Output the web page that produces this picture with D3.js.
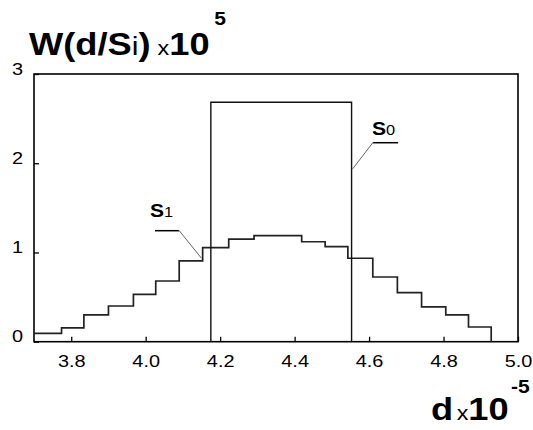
<!DOCTYPE html>
<head>
<meta charset="utf-8">
<title>W(d/Si)</title>
<script src="https://d3js.org/d3.v7.min.js"></script>
<style type="text/css">
body { margin: 0; background: #fff; }
text { font-family: Arial, "Liberation Sans", sans-serif; fill: #000; }
</style>
</head>

<body>
<script type="text/javascript">

// data (d in units of 1e-5, W in units of 1e5)
const binEdges = [3.700, 3.774, 3.834, 3.900, 3.967, 4.027, 4.090, 4.153, 4.223, 4.291,
                  4.355, 4.419, 4.482, 4.543, 4.610, 4.676, 4.741, 4.806, 4.867, 4.928];
const s1Values = [0.094, 0.154, 0.30, 0.40, 0.53, 0.68, 0.905, 1.054, 1.15, 1.188,
                  1.188, 1.12, 1.065, 0.935, 0.725, 0.55, 0.39, 0.30, 0.165];
const s0Range = [4.175, 4.553];
const s0Value = 2.683;
const xTicks = [3.8, 4.0, 4.2, 4.4, 4.6, 4.8, 5.0];
const yTicks = [0, 1, 2, 3];

const svgW = 533, svgH = 430;
const stretch = 1.17;   // text in the original is drawn a bit wide

const svg = d3.select("body").append("svg")
    .attr("width", svgW)
    .attr("height", svgH);

const x = d3.scaleLinear().domain([3.7, 5.0]).range([34, 518]);
const y = d3.scaleLinear().domain([0, 3]).range([341.7, 74]);

// x axis, ticks pointing in
const xAxis = svg.append("g")
    .attr("transform", "translate(0," + y(0) + ")")
    .call(d3.axisBottom(x).tickValues(xTicks).tickSize(-5).tickSizeOuter(0)
        .tickFormat(d3.format(".1f")));
xAxis.select(".domain").remove();
xAxis.selectAll("text")
    .attr("y", 25.5).attr("dy", 0).attr("font-size", 17).attr("font-family", null)
    .attr("transform", "scale(" + stretch + ",1)");
xAxis.selectAll("line").attr("stroke", "#000").attr("stroke-width", 1.3);

// y axis
const yAxis = svg.append("g")
    .attr("transform", "translate(" + x(3.7) + ",0)")
    .call(d3.axisLeft(y).tickValues(yTicks).tickSize(-5).tickSizeOuter(0)
        .tickFormat(d3.format("d")));
yAxis.select(".domain").remove();
yAxis.selectAll("text")
    .attr("x", -11 / stretch).attr("dy", 0).attr("font-size", 17).attr("font-family", null)
    .attr("transform", "scale(" + stretch + ",1)");
yAxis.selectAll("line").attr("stroke", "#000").attr("stroke-width", 1.3);

// frame
svg.append("rect")
    .attr("x", x(3.7)).attr("y", y(3))
    .attr("width", x(5.0) - x(3.7)).attr("height", y(0) - y(3))
    .attr("fill", "none").attr("stroke", "#000").attr("stroke-width", 1.6);

// S1 histogram
const s1Pts = s1Values.map((v, i) => [binEdges[i], v]);
s1Pts.push([binEdges[binEdges.length - 1], 0]);
const line = d3.line().x(d => x(d[0])).y(d => y(d[1]));

svg.append("path")
    .attr("d", line.curve(d3.curveStepAfter)(s1Pts))
    .attr("fill", "none").attr("stroke", "#222").attr("stroke-width", 1.7);

// S0 box
const s0Pts = [[s0Range[0], 0], [s0Range[0], s0Value], [s0Range[1], s0Value], [s0Range[1], 0]];
svg.append("path")
    .attr("d", d3.line().x(d => x(d[0])).y(d => y(d[1]))(s0Pts))
    .attr("fill", "none").attr("stroke", "#111").attr("stroke-width", 1.4);

// labels + leader lines
function leader(under, tip) {
    svg.append("line")
        .attr("x1", x(under[0])).attr("x2", x(under[1]))
        .attr("y1", y(under[2])).attr("y2", y(under[2]))
        .attr("stroke", "#000").attr("stroke-width", 1.5);
    svg.append("line")
        .attr("x1", x(under[1 - (under[3] || 0)])).attr("y1", y(under[2]))
        .attr("x2", x(tip[0])).attr("y2", y(tip[1]))
        .attr("stroke", "#666").attr("stroke-width", 1);
}
leader([4.025, 4.090, 1.244], [4.150, 0.935]);
leader([4.610, 4.678, 2.230, 1], [4.555, 1.932]);

// wide text: group at (px,py), stretched horizontally
function wideText(px, py) {
    return svg.append("g")
        .attr("transform", "translate(" + px + "," + py + ") scale(" + stretch + ",1)")
        .append("text");
}

function sLabel(px, py, sub) {
    const t = wideText(px, py);
    t.append("tspan").attr("font-size", 18).attr("font-weight", "bold").text("S");
    t.append("tspan").attr("font-size", 14).text(sub);
}
sLabel(150, 217, "1");
sLabel(372, 135, "0");

// title
const title = wideText(29, 55);
title.append("tspan").attr("font-size", 31).attr("font-weight", "bold").text("W(d/S");
title.append("tspan").attr("font-size", 26).text("i");
title.append("tspan").attr("font-size", 31).attr("font-weight", "bold").text(")");
title.append("tspan").attr("font-size", 20).attr("dx", 6).text("x");
title.append("tspan").attr("font-size", 31).attr("font-weight", "bold").text("10");
title.append("tspan").attr("font-size", 18).attr("font-weight", "bold").attr("dx", 4).attr("dy", -30).text("5");

// x label
const xl = wideText(431, 420);
xl.append("tspan").attr("font-size", 31).attr("font-weight", "bold").text("d");
xl.append("tspan").attr("font-size", 20).attr("dx", 3).text("x");
xl.append("tspan").attr("font-size", 31).attr("font-weight", "bold").text("10");
xl.append("tspan").attr("font-size", 18).attr("font-weight", "bold").attr("dx", 2).attr("dy", -27).text("-5");

</script>
</body>
